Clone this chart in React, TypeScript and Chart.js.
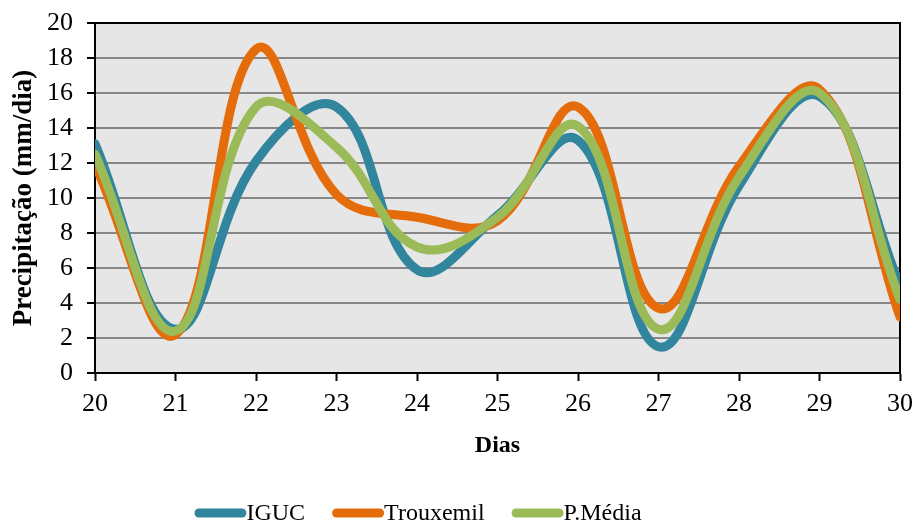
import { useEffect, useRef } from "react";
import { Chart, registerables } from "chart.js";

Chart.register(...registerables);

// Daily precipitation (mm/dia), days 20–30
const days = [20, 21, 22, 23, 24, 25, 26, 27, 28, 29, 30];
const iguc = [13.1, 2.5, 12.1, 15.2, 5.9, 9.0, 13.3, 1.5, 10.7, 15.8, 5.0];
const trouxemil = [11.9, 2.2, 18.5, 10.2, 8.9, 8.7, 15.2, 3.7, 11.8, 16.2, 3.2];
const pMedia = [12.5, 2.4, 15.2, 12.9, 7.2, 8.9, 14.1, 2.5, 11.2, 16.0, 4.2];

const seriesNames = ["IGUC", "Trouxemil", "P.Média"];
const seriesColors = ["#31859C", "#E46C0A", "#9BBB59"];
const seriesValues = [iguc, trouxemil, pMedia];

const xTitle = "Dias";
const yTitle = "Precipitação (mm/dia)";

const FONT = "'Liberation Serif', 'Times New Roman', serif";

// Target plot rectangle inside the 915×524 canvas
const AREA = { left: 95, top: 23, right: 900, bottom: 373 };

// Gray plot background
const plotBackground = {
  id: "plotBackground",
  beforeDraw(chart: any) {
    const { ctx, chartArea: a } = chart;
    ctx.save();
    ctx.fillStyle = "#E6E6E6";
    ctx.fillRect(a.left, a.top, a.right - a.left, a.bottom - a.top);
    ctx.restore();
  },
};

// Black frame on the top and right of the plot area
const plotFrame = {
  id: "plotFrame",
  beforeDatasetsDraw(chart: any) {
    const { ctx, chartArea: a } = chart;
    ctx.save();
    ctx.strokeStyle = "#000";
    ctx.lineWidth = 2;
    ctx.beginPath();
    ctx.moveTo(a.left, a.top);
    ctx.lineTo(a.right, a.top);
    ctx.lineTo(a.right, a.bottom);
    ctx.stroke();
    ctx.restore();
  },
};

// Legend row below the axis: rounded line marker followed by the label
const lineLegend = {
  id: "lineLegend",
  afterDraw(chart: any) {
    const { ctx } = chart;
    const markerLen = 52;
    const markerWidth = 9;
    const gap = 27;
    const centerX = 418;
    const y = 513;
    ctx.save();
    ctx.font = `24px ${FONT}`;
    ctx.textBaseline = "middle";
    ctx.textAlign = "left";
    const widths = seriesNames.map((n) => ctx.measureText(n).width);
    const total =
      widths.reduce((s, w) => s + w + markerLen, 0) + gap * (seriesNames.length - 1);
    let x = centerX - total / 2;
    seriesNames.forEach((name, i) => {
      ctx.strokeStyle = seriesColors[i];
      ctx.lineWidth = markerWidth;
      ctx.lineCap = "round";
      ctx.beginPath();
      ctx.moveTo(x + markerWidth / 2, y);
      ctx.lineTo(x + markerLen - markerWidth / 2, y);
      ctx.stroke();
      ctx.fillStyle = "#000";
      ctx.fillText(name, x + markerLen, y + 1);
      x += markerLen + widths[i] + gap;
    });
    ctx.restore();
  },
};

export default function App() {
  const canvasRef = useRef<HTMLCanvasElement | null>(null);

  useEffect(() => {
    const canvas = canvasRef.current;
    if (!canvas) return;

    const datasets = seriesNames.map((name, i) => ({
      label: name,
      data: days.map((d, j) => ({ x: d, y: seriesValues[i][j] })),
      borderColor: seriesColors[i],
      backgroundColor: seriesColors[i],
      borderWidth: 9,
      borderCapStyle: "round" as const,
      borderJoinStyle: "round" as const,
      pointRadius: 0,
      pointHoverRadius: 0,
      tension: 0.4,
      fill: false,
      clip: 0,
      order: seriesNames.length - i,
    }));

    const chart = new Chart(canvas, {
      type: "line",
      data: { datasets },
      plugins: [plotBackground, plotFrame, lineLegend],
      options: {
        responsive: false,
        animation: false,
        layout: { padding: { top: 23, right: 15, left: 0, bottom: 50 } },
        plugins: {
          legend: { display: false },
          tooltip: { enabled: false },
        },
        scales: {
          x: {
            type: "linear",
            min: 20,
            max: 30,
            afterFit(scale: any) {
              scale.height = 101;
              scale.paddingLeft = 0;
              scale.paddingRight = 0;
            },
            ticks: {
              stepSize: 1,
              autoSkip: false,
              maxRotation: 0,
              color: "#000",
              padding: 8,
              font: { family: FONT, size: 26 },
            },
            grid: {
              drawOnChartArea: false,
              drawTicks: true,
              tickLength: 8,
              tickColor: "#000",
              tickWidth: 2,
            },
            border: { display: true, color: "#000", width: 2 },
            title: {
              display: true,
              text: xTitle,
              color: "#000",
              font: { family: FONT, size: 24, weight: "bold" },
              padding: { top: 0, bottom: 14 },
            },
          },
          y: {
            min: 0,
            max: 20,
            afterFit(scale: any) {
              scale.width = 95;
              scale.paddingTop = 0;
              scale.paddingBottom = 0;
            },
            ticks: {
              stepSize: 2,
              autoSkip: false,
              color: "#000",
              padding: 14,
              font: { family: FONT, size: 26 },
            },
            grid: {
              color: "#878787",
              lineWidth: 2,
              drawTicks: true,
              tickLength: 8,
              tickColor: "#000",
              tickWidth: 2,
            },
            border: { display: true, color: "#000", width: 2 },
            title: {
              display: true,
              text: yTitle,
              color: "#000",
              font: { family: FONT, size: 27, weight: "bold" },
              padding: { top: 8, bottom: 0 },
            },
          },
        },
      },
    });

    // Nudge the layout padding until the plot rectangle lands on AREA
    const rawOptions: any = chart.config.options;
    for (let k = 0; k < 5; k++) {
      const a = chart.chartArea;
      const dl = AREA.left - a.left;
      const dt = AREA.top - a.top;
      const dr = a.right - AREA.right;
      const db = a.bottom - AREA.bottom;
      if (Math.abs(dl) + Math.abs(dt) + Math.abs(dr) + Math.abs(db) < 0.5) break;
      const p = rawOptions.layout.padding;
      rawOptions.layout.padding = {
        left: p.left + dl,
        top: p.top + dt,
        right: p.right + dr,
        bottom: p.bottom + db,
      };
      chart.update();
    }

    return () => chart.destroy();
  }, []);

  return (
    <div style={{ position: "absolute", left: 0, top: 0, width: 915, height: 524, background: "#fff" }}>
      <canvas ref={canvasRef} width={915} height={524} style={{ display: "block", width: 915, height: 524 }} />
    </div>
  );
}
